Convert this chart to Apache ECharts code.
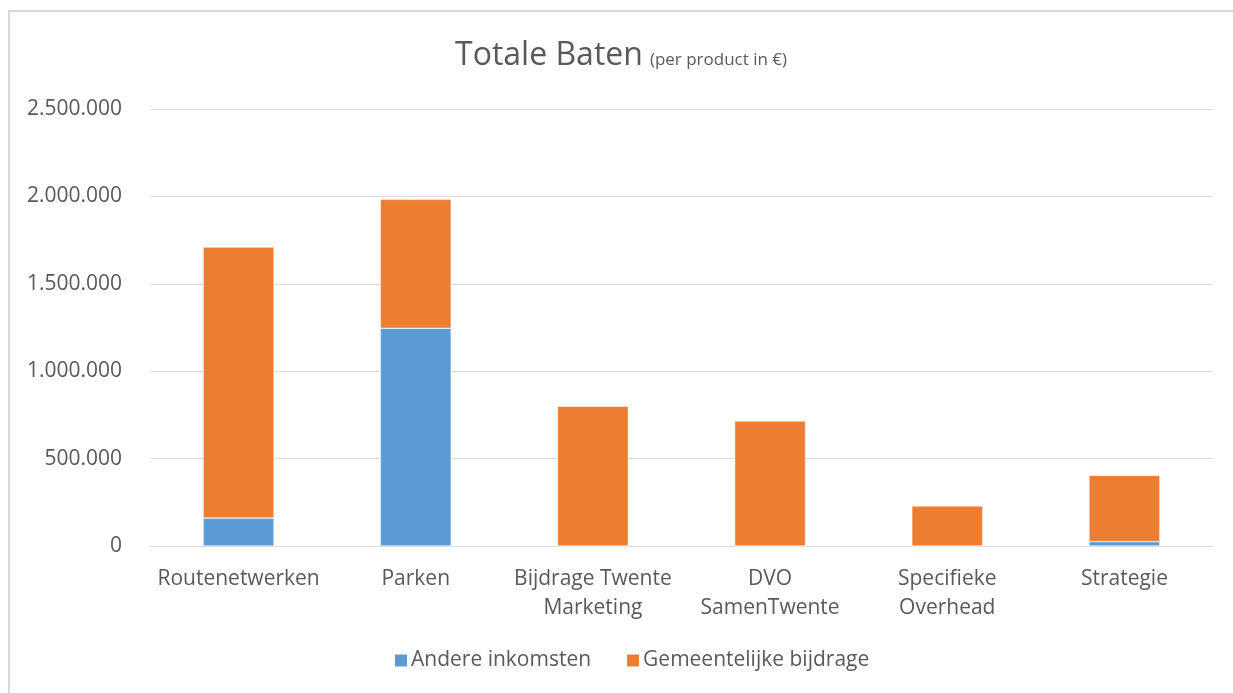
<!DOCTYPE html>
<html>
<head>
<meta charset="utf-8">
<script src="https://cdn.jsdelivr.net/npm/echarts@6/dist/echarts.min.js"></script>
<style>
  html, body { margin: 0; padding: 0; background: #fff; overflow: hidden; }
  #frame { position: absolute; left: 8px; top: 10px; width: 1260px; height: 720px;
           border-left: 2px solid #d9d9d9; border-top: 2px solid #d9d9d9; }
  #chart { position: absolute; left: 0; top: 0; width: 1233px; height: 693px; }
</style>
</head>
<body>
<div id="frame"></div>
<div id="chart"></div>
<script>
var categories = ["Routenetwerken", "Parken", "Bijdrage Twente\nMarketing", "DVO\nSamenTwente", "Specifieke\nOverhead", "Strategie"];
var andereInkomsten = [160000, 1245000, 0, 0, 0, 25000];
var gemeentelijkeBijdrage = [1550000, 738000, 800000, 715000, 229000, 379000];
var yTicks = [0, 500000, 1000000, 1500000, 2000000, 2500000];

var textColor = "#595959";
var fontFam = "'Open Sans', 'Liberation Sans', sans-serif";

function fmt(v) {
    return String(v).replace(/\B(?=(\d{3})+(?!\d))/g, ".");
}

var option = {
    animation: false,
    backgroundColor: "transparent",
    title: {
        text: "{a|Totale Baten} {b|(per product in €)}",
        left: 450,
        top: 35,
        textStyle: {
            fontWeight: "normal",
            rich: {
                a: { fontSize: 32, color: textColor, fontFamily: fontFam, fontWeight: "normal" },
                b: { fontSize: 17, color: textColor, fontFamily: fontFam, fontWeight: "normal", padding: [8, 0, 0, 2] }
            }
        }
    },
    legend: {
        bottom: 17,
        left: 388,
        itemWidth: 14,
        itemHeight: 14,
        itemGap: 34,
        icon: "rect",
        textStyle: { fontSize: 21, color: textColor, fontFamily: fontFam, padding: [0, 0, 0, -2] },
        data: ["Andere inkomsten", "Gemeentelijke bijdrage"]
    },
    grid: { left: 150, right: 20, top: 109, bottom: 147 },
    xAxis: {
        type: "category",
        data: categories,
        axisLine: { lineStyle: { color: "#d9d9d9", width: 1 } },
        axisTick: { show: false },
        axisLabel: { color: textColor, fontSize: 21, fontFamily: fontFam, margin: 19, lineHeight: 29, interval: 0 }
    },
    yAxis: {
        type: "value",
        min: yTicks[0],
        max: yTicks[yTicks.length - 1],
        interval: 500000,
        axisLine: { show: false },
        axisTick: { show: false },
        splitLine: { lineStyle: { color: "#d9d9d9", width: 1 } },
        axisLabel: { color: textColor, fontSize: 21, fontFamily: fontFam, margin: 28, formatter: fmt }
    },
    series: [
        {
            name: "Andere inkomsten",
            type: "bar",
            stack: "totaal",
            barWidth: "40%",
            itemStyle: { color: "#5B9BD5", borderColor: "#ffffff", borderWidth: 0.5 },
            data: andereInkomsten
        },
        {
            name: "Gemeentelijke bijdrage",
            type: "bar",
            stack: "totaal",
            barWidth: "40%",
            itemStyle: { color: "#ED7D31", borderColor: "#ffffff", borderWidth: 0.5 },
            data: gemeentelijkeBijdrage
        }
    ]
};

var chart = echarts.init(document.getElementById("chart"));
chart.setOption(option);
</script>
</body>
</html>
